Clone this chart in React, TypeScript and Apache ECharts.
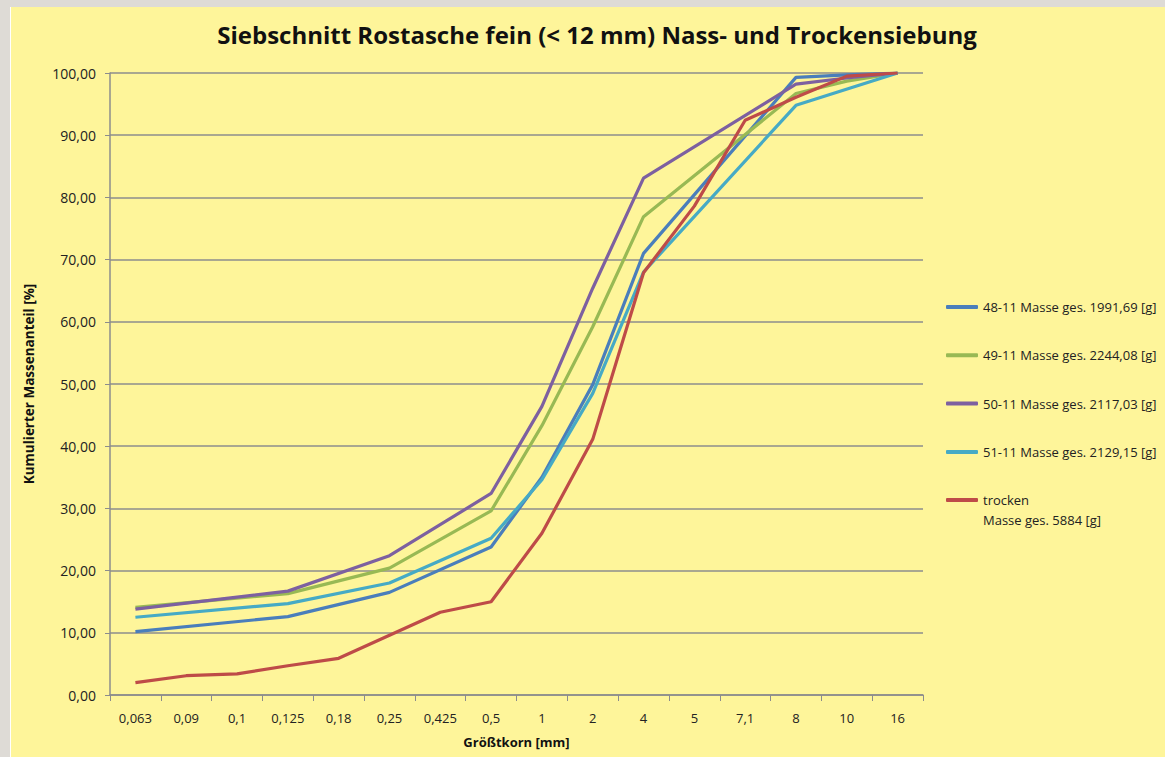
import React, { useEffect, useRef } from "react";
import * as echarts from "echarts";

const TITLE = "Siebschnitt Rostasche fein (< 12 mm) Nass- und Trockensiebung";
const X_NAME = "Größtkorn [mm]";
const Y_NAME = "Kumulierter Massenanteil [%]";

const categories = ["0,063", "0,09", "0,1", "0,125", "0,18", "0,25", "0,425", "0,5", "1", "2", "4", "5", "7,1", "8", "10", "16"];

const names = [
  "48-11 Masse ges. 1991,69 [g]",
  "49-11 Masse ges. 2244,08 [g]",
  "50-11 Masse ges. 2117,03 [g]",
  "51-11 Masse ges. 2129,15 [g]",
  "trocken\nMasse ges. 5884 [g]",
];

const colors = ["#4A7EBB", "#98B954", "#7D60A0", "#46AAC5", "#BE4B48"];

const s48 = [10.2, null, null, 12.6, null, 16.5, null, 23.8, 35.0, 49.9, 71.0, null, null, 99.3, 99.7, 100];
const s49 = [14.1, null, null, 16.3, null, 20.4, null, 29.6, 43.3, 59.2, 76.9, null, null, 96.7, 98.7, 100];
const s50 = [13.8, null, null, 16.7, null, 22.4, null, 32.4, 46.4, 65.4, 83.1, null, null, 98.2, 99.2, 100];
const s51 = [12.5, null, null, 14.7, null, 18.0, null, 25.2, 34.6, 48.5, 68.0, null, null, 94.8, null, 100];
const sTrocken = [2.0, 3.1, 3.4, 4.7, 5.9, 9.6, 13.3, 15.0, 26.0, 41.1, 67.9, 78.6, 92.4, 96.1, 99.5, 100];

const seriesValues = [s48, s49, s50, s51, sTrocken];

const FONT = "'Open Sans', 'Noto Sans', sans-serif";

export default function App() {
  const ref = useRef<HTMLDivElement>(null);

  useEffect(() => {
    if (!ref.current) return;
    const chart = echarts.init(ref.current, null, { renderer: "svg" });
    const gridColor = "#8C8C8C";
    chart.setOption({
      animation: false,
      backgroundColor: "transparent",
      title: {
        text: TITLE,
        left: 597,
        top: 22,
        padding: 0,
        textAlign: "center",
        textStyle: { fontFamily: FONT, fontSize: 24, fontWeight: "bold", color: "#111" },
      },
      grid: { left: 110, top: 73, width: 813, height: 622, containLabel: false },
      legend: [
        {
          data: names.slice(0, 4),
          orient: "vertical",
          left: 946,
          top: 297,
          padding: 0,
          itemGap: 28.3,
          itemWidth: 32,
          itemHeight: 4,
          icon: "roundRect",
          textStyle: { fontFamily: FONT, fontSize: 13, color: "#222", lineHeight: 20 },
        },
        {
          data: names.slice(4),
          orient: "vertical",
          left: 946,
          top: 470,
          padding: 0,
          itemWidth: 32,
          itemHeight: 4,
          icon: "roundRect",
          formatter: (n: string) => "\n" + n,
          textStyle: { fontFamily: FONT, fontSize: 13, color: "#222", lineHeight: 20 },
        },
      ],
      xAxis: {
        type: "category",
        data: categories,
        boundaryGap: true,
        name: X_NAME,
        nameLocation: "middle",
        nameGap: 40,
        nameTextStyle: { fontFamily: FONT, fontSize: 13, fontWeight: "bold", color: "#111" },
        axisLine: { lineStyle: { color: gridColor, width: 1.5 } },
        axisTick: { show: true, interval: 0, length: 6, inside: false, lineStyle: { color: gridColor, width: 1 } },
        axisLabel: { interval: 0, margin: 16, fontFamily: FONT, fontSize: 13, color: "#222" },
        splitLine: { show: false },
      },
      yAxis: {
        type: "value",
        min: 0,
        max: 100,
        interval: 10,
        name: Y_NAME,
        nameLocation: "middle",
        nameGap: 74,
        nameRotate: 90,
        nameTextStyle: { fontFamily: FONT, fontSize: 13.5, fontWeight: "bold", color: "#111" },
        axisLine: { show: true, lineStyle: { color: gridColor, width: 1.5 } },
        axisTick: { show: true, length: 5, lineStyle: { color: gridColor, width: 1 } },
        axisLabel: {
          margin: 14,
          fontFamily: FONT,
          fontSize: 14,
          color: "#222",
          formatter: (v: number) => v.toFixed(2).replace(".", ","),
        },
        splitLine: { show: true, lineStyle: { color: gridColor, width: 1.5 } },
      },
      series: seriesValues.map((vals, i) => ({
        name: names[i],
        type: "line",
        data: vals,
        connectNulls: true,
        showSymbol: false,
        symbol: "none",
        smooth: false,
        lineStyle: { color: colors[i], width: 3.2 },
        itemStyle: { color: colors[i] },
      })),
    });
    return () => chart.dispose();
  }, []);

  return (
    <div style={{ position: "fixed", left: 0, top: 0, width: 1165, height: 757, background: "#DEDBD6", overflow: "hidden" }}>
      <div
        style={{
          position: "absolute",
          left: 10,
          top: 7,
          width: 1155,
          height: 750,
          background: "#FEF59A",
          borderLeft: "1px solid #ffffff",
        }}
      />
      <div ref={ref} style={{ position: "absolute", left: 0, top: 0, width: 1165, height: 757 }} />
    </div>
  );
}
